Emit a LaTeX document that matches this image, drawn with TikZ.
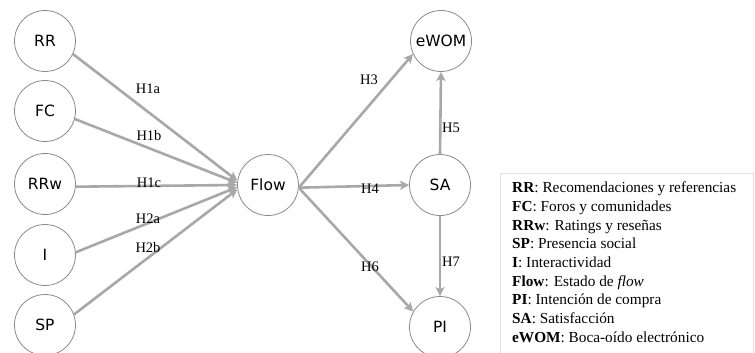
\documentclass[tikz,border=0pt]{standalone}
\usepackage{fontspec}
\setmainfont{Liberation Serif}
\newfontfamily\nodefont{DejaVu Sans}
\usetikzlibrary{arrows.meta,shadows}
\definecolor{arrowgray}{RGB}{168,168,168}
\definecolor{ringgray}{RGB}{140,140,140}
\tikzset{
  construct/.style={circle, draw=ringgray, line width=0.8pt, fill=white,
    minimum size=61pt, inner sep=0pt, font=\nodefont\fontsize{15.5}{16}\selectfont},
  path/.style={draw=arrowgray, line width=2.6pt,
    -{Stealth[length=9pt,width=9pt,inset=2pt]}},
  hyp/.style={font=\fontsize{14.5}{15}\selectfont, inner sep=1pt},
}
\begin{document}
\begin{tikzpicture}[x=1pt,y=-1pt]
\useasboundingbox (0,0) rectangle (755,353);
\fill[white] (0,0) rectangle (755,353);

% constructs
\node[construct] (RR)   at (45,41)   {RR};
\node[construct] (FC)   at (45,111)  {FC};
\node[construct] (RRw)  at (45,184)  {RRw};
\node[construct] (I)    at (45,255)  {I};
\node[construct] (SP)   at (45,325)  {SP};
\node[construct] (Flow) at (268,185) {Flow};
\node[construct] (eWOM) at (441,41)  {eWOM};
\node[construct] (SA)   at (440,185) {SA};
\node[construct] (PI)   at (440,327) {PI};

% hypothesised paths
\draw[path] (RR.-25)  -- (Flow.172);
\draw[path] (FC.-15)  -- (Flow.176);
\draw[path] (RRw.-5)  -- (Flow.180);
\draw[path] (I.5)     -- (Flow.184);
\draw[path] (SP.20)   -- (Flow.188);
\draw[path] (Flow.-5) -- (eWOM.205);
\draw[path] (Flow.-5) -- (SA.180);
\draw[path] (Flow.-5) -- (PI.150);
\draw[path] (SA.90)   -- (eWOM.-90);
\draw[path] (SA.-90)  -- (PI.90);

% path labels
\node[hyp] (l1a) at (148,89)  {H1a};
\node[hyp] (l1b) at (149,136) {H1b};
\node[hyp] (l1c) at (149,183) {H1c};
\node[hyp] (l2a) at (148,219) {H2a};
\node[hyp] (l2b) at (148,248) {H2b};
\node[hyp] (l3)  at (369,80)  {H3};
\node[hyp] (l4)  at (370,189) {H4};
\node[hyp] (l6)  at (370,267) {H6};
\node[hyp] (l5)  at (451,128) {H5};
\node[hyp] (l7)  at (451,262) {H7};

% legend
\node[draw=black!12, line width=1pt, fill=white,
      drop shadow={shadow xshift=0.5pt, shadow yshift=0.5pt, opacity=0.25},
      minimum width=253pt, minimum height=180pt, anchor=north west]
      (legbox) at (500,173) {};
\node[anchor=north west, align=left, inner sep=0pt,
      font=\fontsize{15.3}{18.65}\selectfont] (legend) at (512,182)
{\textbf{RR}: Recomendaciones y referencias\\
\textbf{FC}: Foros y comunidades\\
\textbf{RRw}: Ratings y reseñas\\
\textbf{SP}: Presencia social\\
\textbf{I}: Interactividad\\
\textbf{Flow}: Estado de \textit{flow}\\
\textbf{PI}: Intención de compra\\
\textbf{SA}: Satisfacción\\
\textbf{eWOM}: Boca-oído electrónico};
\end{tikzpicture}
\end{document}
